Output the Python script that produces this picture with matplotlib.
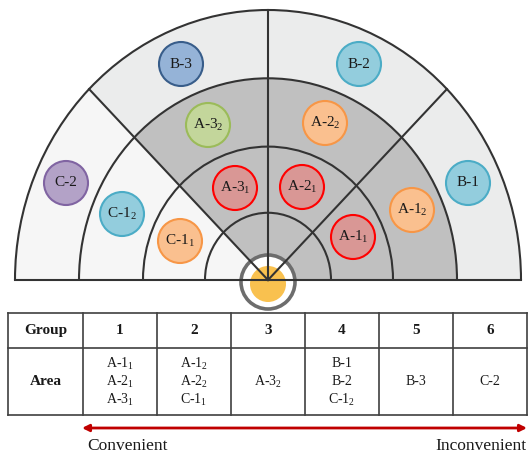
import matplotlib.pyplot as plt
from matplotlib.patches import Wedge, Arc, Circle
from matplotlib.transforms import Affine2D
import numpy as np

plt.rcParams['font.family'] = ['Liberation Serif', 'DejaVu Serif']
plt.rcParams['mathtext.fontset'] = 'custom'
plt.rcParams['mathtext.rm'] = 'Liberation Serif'

# fan rings (outer radius of each ring) and dividing angles
ring_radii = [63, 125, 189, 253]
divider_angles = [45, 90, 135]

# bubbles on the fan (pixel centres)
bubble_labels = ["B-3", "B-2", "A-3$_\\mathregular{2}$", "A-2$_\\mathregular{2}$",
                 "C-2", "A-3$_\\mathregular{1}$", "A-2$_\\mathregular{1}$", "B-1",
                 "C-1$_\\mathregular{2}$", "A-1$_\\mathregular{2}$",
                 "C-1$_\\mathregular{1}$", "A-1$_\\mathregular{1}$"]
bubble_x = [181, 359, 208, 325, 66, 235, 302, 468, 122, 412, 180, 353]
bubble_y = [64, 64, 125, 123, 183, 188, 187, 183, 214, 210, 241, 237]
bubble_kind = ["blue", "cyan", "green", "orange", "purple", "red", "red", "cyan",
               "cyan", "orange", "orange", "red"]

# table
groups = ["1", "2", "3", "4", "5", "6"]
areas = [
    ["A-1$_\\mathregular{1}$", "A-2$_\\mathregular{1}$", "A-3$_\\mathregular{1}$"],
    ["A-1$_\\mathregular{2}$", "A-2$_\\mathregular{2}$", "C-1$_\\mathregular{1}$"],
    ["A-3$_\\mathregular{2}$"],
    ["B-1", "B-2", "C-1$_\\mathregular{2}$"],
    ["B-3"],
    ["C-2"],
]

kind_colors = {
    "red": ("#d99795", "#ff0000"),
    "orange": ("#fac08f", "#f79646"),
    "cyan": ("#93cddd", "#4bacc6"),
    "blue": ("#95b3d7", "#385d8a"),
    "green": ("#c3d69b", "#9bbb59"),
    "purple": ("#b3a2c7", "#8064a2"),
}

fig = plt.figure(figsize=(5.28, 4.55), dpi=100)
ax = fig.add_axes([0, 0, 1, 1])
ax.set_xlim(0, 528)
ax.set_ylim(455, 0)
ax.axis('off')

cx, cy = 268, 280
sy = 270 / 253
fan = Affine2D().scale(1, -sy).translate(cx, cy) + ax.transData
line_col = '#333333'
R = ring_radii[-1]

# fills
ax.add_patch(Wedge((0, 0), R, 0, 135, width=R - ring_radii[2], fc='#ebecec', ec='none', transform=fan, zorder=1))
ax.add_patch(Wedge((0, 0), R, 135, 180, fc='#f6f6f6', ec='none', transform=fan, zorder=1))
ax.add_patch(Wedge((0, 0), ring_radii[2], 0, 135, fc='#c0c0c0', ec='none', transform=fan, zorder=1))

# centre marker
ax.add_patch(Circle((268, 282), 27, fc='white', ec='#6d6d6d', lw=2.6, zorder=2))
ax.add_patch(Circle((268, 284), 18, fc='#f9c14f', ec='none', zorder=2))

# arcs and lines
for r in ring_radii:
    ax.add_patch(Arc((0, 0), 2 * r, 2 * r, theta1=0, theta2=180, ec=line_col, lw=1.5, transform=fan, zorder=3))
for a in divider_angles:
    t = np.radians(a)
    ax.plot([0, R * np.cos(t)], [0, R * np.sin(t)], color=line_col, lw=1.5, transform=fan, zorder=3)
ax.plot([-R, R], [0, 0], color=line_col, lw=1.5, transform=fan, zorder=3)

# bubbles
for lab, x, y, k in zip(bubble_labels, bubble_x, bubble_y, bubble_kind):
    fc, ec = kind_colors[k]
    ax.add_patch(Circle((x, y), 22, fc=fc, ec=ec, lw=1.5, zorder=4))
    ax.text(x, y, lab, ha='center', va='center', fontsize=11, color='#1a1a1a', zorder=5)

# table grid
col_edges = [8, 83, 157, 231, 305, 379, 453, 527]
row_edges = [313, 348, 415]
for y in row_edges:
    ax.plot([col_edges[0], col_edges[-1]], [y, y], color='#404040', lw=1.2)
for x in col_edges:
    ax.plot([x, x], [row_edges[0], row_edges[-1]], color='#404040', lw=1.2)

head_y = (row_edges[0] + row_edges[1]) / 2
area_y = (row_edges[1] + row_edges[2]) / 2
ax.text((col_edges[0] + col_edges[1]) / 2, head_y, "Group", ha='center', va='center',
        fontsize=11, fontweight='bold', color='#1a1a1a')
ax.text((col_edges[0] + col_edges[1]) / 2, area_y, "Area", ha='center', va='center',
        fontsize=11, fontweight='bold', color='#1a1a1a')
for i, (g, items) in enumerate(zip(groups, areas)):
    xc = (col_edges[i + 1] + col_edges[i + 2]) / 2
    ax.text(xc, head_y, g, ha='center', va='center', fontsize=11, fontweight='bold', color='#1a1a1a')
    n = len(items)
    for j, s in enumerate(items):
        ax.text(xc, area_y + (j - (n - 1) / 2) * 18, s, ha='center', va='center',
                fontsize=10, color='#1a1a1a')

# convenience arrow
ax.annotate('', xy=(82, 428), xytext=(527, 428),
            arrowprops=dict(arrowstyle='<|-|>', color='#c00000', lw=2,
                            mutation_scale=10, shrinkA=0, shrinkB=0))
ax.text(87, 450, "Convenient", ha='left', va='baseline', fontsize=12.5, color='#1a1a1a')
ax.text(526, 450, "Inconvenient", ha='right', va='baseline', fontsize=12.5, color='#1a1a1a')

plt.savefig("out.png", dpi=100)
